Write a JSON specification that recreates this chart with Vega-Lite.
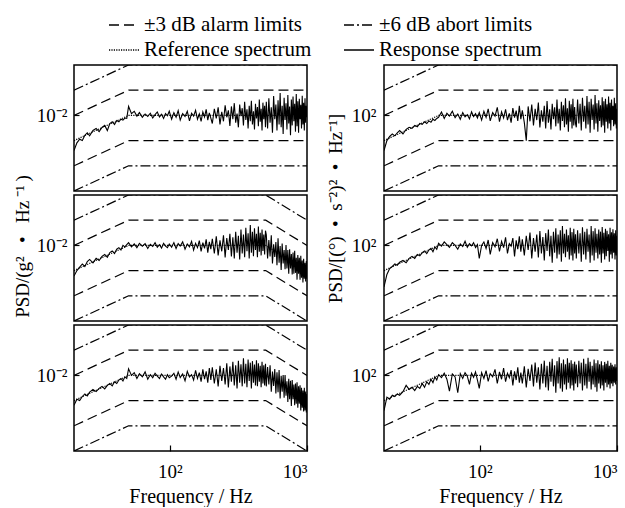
{
"$schema": "https://vega.github.io/schema/vega-lite/v6.json",
"background": "white",
"padding": {"left": 12, "top": 14, "right": 0, "bottom": 0},
"config": {
  "font": "Liberation Serif",
  "view": {"stroke": "black", "strokeWidth": 1.5},
  "axis": {"grid": false, "domain": false, "labelFont": "Liberation Serif", "labelFontSize": 19, "labelColor": "black", "tickColor": "black", "tickWidth": 1.2, "titleFont": "Liberation Serif", "titleFontSize": 19, "titleFontWeight": "normal", "titleColor": "black"},
  "legend": {"labelFont": "Liberation Serif", "labelFontSize": 21, "labelColor": "black", "labelLimit": 300}
},
"datasets": {
  "limL_flat": [
    {"s":"±6 dB abort limits","b":"u6","f":20,"v":0.02},{"s":"±6 dB abort limits","b":"u6","f":50,"v":0.04},{"s":"±6 dB abort limits","b":"u6","f":1000,"v":0.04},
    {"s":"±3 dB alarm limits","b":"u3","f":20,"v":0.01},{"s":"±3 dB alarm limits","b":"u3","f":50,"v":0.02},{"s":"±3 dB alarm limits","b":"u3","f":1000,"v":0.02},
    {"s":"Reference spectrum","b":"r","f":20,"v":0.005},{"s":"Reference spectrum","b":"r","f":50,"v":0.01},{"s":"Reference spectrum","b":"r","f":1000,"v":0.01},
    {"s":"±3 dB alarm limits","b":"l3","f":20,"v":0.0025},{"s":"±3 dB alarm limits","b":"l3","f":50,"v":0.005},{"s":"±3 dB alarm limits","b":"l3","f":1000,"v":0.005},
    {"s":"±6 dB abort limits","b":"l6","f":20,"v":0.00125},{"s":"±6 dB abort limits","b":"l6","f":50,"v":0.0025},{"s":"±6 dB abort limits","b":"l6","f":1000,"v":0.0025}
  ],
  "limL_fall": [
    {"s":"±6 dB abort limits","b":"u6","f":20,"v":0.02},{"s":"±6 dB abort limits","b":"u6","f":50,"v":0.04},{"s":"±6 dB abort limits","b":"u6","f":500,"v":0.04},{"s":"±6 dB abort limits","b":"u6","f":1000,"v":0.02},
    {"s":"±3 dB alarm limits","b":"u3","f":20,"v":0.01},{"s":"±3 dB alarm limits","b":"u3","f":50,"v":0.02},{"s":"±3 dB alarm limits","b":"u3","f":500,"v":0.02},{"s":"±3 dB alarm limits","b":"u3","f":1000,"v":0.01},
    {"s":"Reference spectrum","b":"r","f":20,"v":0.005},{"s":"Reference spectrum","b":"r","f":50,"v":0.01},{"s":"Reference spectrum","b":"r","f":500,"v":0.01},{"s":"Reference spectrum","b":"r","f":1000,"v":0.005},
    {"s":"±3 dB alarm limits","b":"l3","f":20,"v":0.0025},{"s":"±3 dB alarm limits","b":"l3","f":50,"v":0.005},{"s":"±3 dB alarm limits","b":"l3","f":500,"v":0.005},{"s":"±3 dB alarm limits","b":"l3","f":1000,"v":0.0025},
    {"s":"±6 dB abort limits","b":"l6","f":20,"v":0.00125},{"s":"±6 dB abort limits","b":"l6","f":50,"v":0.0025},{"s":"±6 dB abort limits","b":"l6","f":500,"v":0.0025},{"s":"±6 dB abort limits","b":"l6","f":1000,"v":0.00125}
  ],
  "limR_flat": [
    {"s":"±6 dB abort limits","b":"u6","f":20,"v":200},{"s":"±6 dB abort limits","b":"u6","f":50,"v":400},{"s":"±6 dB abort limits","b":"u6","f":1000,"v":400},
    {"s":"±3 dB alarm limits","b":"u3","f":20,"v":100},{"s":"±3 dB alarm limits","b":"u3","f":50,"v":200},{"s":"±3 dB alarm limits","b":"u3","f":1000,"v":200},
    {"s":"Reference spectrum","b":"r","f":20,"v":50},{"s":"Reference spectrum","b":"r","f":50,"v":100},{"s":"Reference spectrum","b":"r","f":1000,"v":100},
    {"s":"±3 dB alarm limits","b":"l3","f":20,"v":25},{"s":"±3 dB alarm limits","b":"l3","f":50,"v":50},{"s":"±3 dB alarm limits","b":"l3","f":1000,"v":50},
    {"s":"±6 dB abort limits","b":"l6","f":20,"v":12.5},{"s":"±6 dB abort limits","b":"l6","f":50,"v":25},{"s":"±6 dB abort limits","b":"l6","f":1000,"v":25}
  ],
  "resp": [
{"f":20,"L1":0.0038,"L2":0.0043,"L3":0.0044,"R1":38,"R2":32,"R3":38},
{"f":21,"L1":0.0047,"L2":0.005,"L3":0.0052,"R1":50,"R2":45,"R3":55},
{"f":22,"L1":0.0052,"L2":0.0055,"L3":0.005,"R1":56,"R2":53,"R3":52},
{"f":23,"L1":0.005,"L2":0.006,"L3":0.0056,"R1":60,"R2":56,"R3":58},
{"f":24,"L1":0.0058,"L2":0.0056,"L3":0.006,"R1":57,"R2":60,"R3":56},
{"f":25,"L1":0.0062,"L2":0.0064,"L3":0.0057,"R1":62,"R2":58,"R3":60},
{"f":26,"L1":0.0057,"L2":0.0068,"L3":0.0063,"R1":66,"R2":63,"R3":58},
{"f":27.5,"L1":0.0066,"L2":0.0062,"L3":0.0068,"R1":60,"R2":66,"R3":64},
{"f":29,"L1":0.007,"L2":0.007,"L3":0.0064,"R1":68,"R2":62,"R3":76},
{"f":30.5,"L1":0.0064,"L2":0.0066,"L3":0.007,"R1":72,"R2":70,"R3":68},
{"f":32,"L1":0.0072,"L2":0.0074,"L3":0.0074,"R1":70,"R2":74,"R3":72},
{"f":33.5,"L1":0.0076,"L2":0.0078,"L3":0.0069,"R1":76,"R2":70,"R3":66},
{"f":35,"L1":0.0066,"L2":0.0072,"L3":0.0076,"R1":73,"R2":78,"R3":74},
{"f":36.5,"L1":0.008,"L2":0.0082,"L3":0.008,"R1":80,"R2":75,"R3":70},
{"f":38,"L1":0.0084,"L2":0.0086,"L3":0.0075,"R1":78,"R2":82,"R3":80},
{"f":39.5,"L1":0.0078,"L2":0.008,"L3":0.0084,"R1":84,"R2":86,"R3":72},
{"f":41,"L1":0.0087,"L2":0.009,"L3":0.008,"R1":80,"R2":80,"R3":84},
{"f":42.5,"L1":0.0084,"L2":0.0094,"L3":0.0088,"R1":86,"R2":88,"R3":78},
{"f":44,"L1":0.009,"L2":0.0088,"L3":0.0092,"R1":83,"R2":92,"R3":90},
{"f":45.5,"L1":0.0088,"L2":0.01,"L3":0.0086,"R1":90,"R2":84,"R3":82},
{"f":47,"L1":0.0093,"L2":0.0096,"L3":0.0096,"R1":87,"R2":96,"R3":96},
{"f":48.5,"L1":0.0092,"L2":0.0102,"L3":0.0092,"R1":92,"R2":90,"R3":88},
{"f":50,"L1":0.0128,"L2":0.0108,"L3":0.012,"R1":95,"R2":106,"R3":102},
{"f":52.5,"L1":0.0105,"L2":0.0096,"L3":0.01,"R1":110,"R2":98,"R3":94},
{"f":55,"L1":0.0112,"L2":0.0104,"L3":0.0108,"R1":92,"R2":110,"R3":106},
{"f":57.5,"L1":0.0098,"L2":0.0094,"L3":0.0092,"R1":106,"R2":102,"R3":90},
{"f":60,"L1":0.0108,"L2":0.0106,"L3":0.0105,"R1":98,"R2":95,"R3":65},
{"f":63,"L1":0.0095,"L2":0.0098,"L3":0.0096,"R1":112,"R2":108,"R3":104},
{"f":66,"L1":0.0104,"L2":0.0105,"L3":0.011,"R1":94,"R2":100,"R3":96},
{"f":69,"L1":0.0097,"L2":0.0092,"L3":0.009,"R1":104,"R2":90,"R3":62},
{"f":72,"L1":0.0106,"L2":0.0103,"L3":0.0102,"R1":90,"R2":104,"R3":105},
{"f":75,"L1":0.0093,"L2":0.0097,"L3":0.0094,"R1":108,"R2":97,"R3":92},
{"f":78,"L1":0.0102,"L2":0.0108,"L3":0.0106,"R1":96,"R2":112,"R3":108},
{"f":81,"L1":0.011,"L2":0.0095,"L3":0.0098,"R1":102,"R2":95,"R3":98},
{"f":84,"L1":0.0096,"L2":0.0102,"L3":0.0092,"R1":91,"R2":105,"R3":78},
{"f":87,"L1":0.0103,"L2":0.0093,"L3":0.0104,"R1":110,"R2":99,"R3":106},
{"f":90,"L1":0.0092,"L2":0.0106,"L3":0.0096,"R1":97,"R2":108,"R3":95},
{"f":93,"L1":0.0105,"L2":0.0098,"L3":0.009,"R1":105,"R2":94,"R3":110},
{"f":96,"L1":0.0099,"L2":0.0094,"L3":0.0102,"R1":93,"R2":102,"R3":88},
{"f":99,"L1":0.0112,"L2":0.0104,"L3":0.0094,"R1":108,"R2":70,"R3":70},
{"f":103,"L1":0.009,"L2":0.0095,"L3":0.0098,"R1":88,"R2":100,"R3":108},
{"f":107,"L1":0.0108,"L2":0.0108,"L3":0.0106,"R1":112,"R2":110,"R3":92},
{"f":111,"L1":0.0095,"L2":0.0092,"L3":0.009,"R1":95,"R2":92,"R3":114},
{"f":115,"L1":0.0114,"L2":0.0105,"L3":0.011,"R1":120,"R2":116,"R3":85},
{"f":119,"L1":0.0088,"L2":0.0098,"L3":0.0094,"R1":86,"R2":78,"R3":105},
{"f":124,"L1":0.0105,"L2":0.011,"L3":0.0104,"R1":108,"R2":108,"R3":96},
{"f":129,"L1":0.0097,"L2":0.009,"L3":0.0086,"R1":98,"R2":96,"R3":118},
{"f":134,"L1":0.0112,"L2":0.0104,"L3":0.0112,"R1":125,"R2":120,"R3":80},
{"f":139,"L1":0.0086,"L2":0.0096,"L3":0.0096,"R1":84,"R2":85,"R3":110},
{"f":144,"L1":0.0106,"L2":0.0112,"L3":0.0102,"R1":110,"R2":112,"R3":90},
{"f":149,"L1":0.0098,"L2":0.0088,"L3":0.0088,"R1":93,"R2":94,"R3":122},
{"f":154,"L1":0.0115,"L2":0.0106,"L3":0.0115,"R1":118,"R2":125,"R3":84},
{"f":159,"L1":0.009,"L2":0.0094,"L3":0.0092,"R1":88,"R2":80,"R3":106},
{"f":164,"L1":0.0104,"L2":0.0114,"L3":0.0108,"R1":106,"R2":105,"R3":94},
{"f":169,"L1":0.0085,"L2":0.0085,"L3":0.0084,"R1":82,"R2":98,"R3":116},
{"f":174,"L1":0.011,"L2":0.0108,"L3":0.0118,"R1":122,"R2":122,"R3":76},
{"f":179,"L1":0.0096,"L2":0.0092,"L3":0.009,"R1":94,"R2":74,"R3":112},
{"f":184,"L1":0.0118,"L2":0.0118,"L3":0.0112,"R1":114,"R2":115,"R3":88},
{"f":189,"L1":0.0088,"L2":0.0082,"L3":0.0082,"R1":86,"R2":90,"R3":125},
{"f":194,"L1":0.0107,"L2":0.011,"L3":0.0122,"R1":130,"R2":128,"R3":82},
{"f":199,"L1":0.0093,"L2":0.009,"L3":0.0088,"R1":90,"R2":84,"R3":108},
{"f":204,"L1":0.008,"L2":0.012,"L3":0.0125,"R1":115,"R2":118,"R3":80},
{"f":211,"L1":0.012,"L2":0.008,"L3":0.008,"R1":82,"R2":76,"R3":128},
{"f":218,"L1":0.0092,"L2":0.0128,"L3":0.0118,"R1":50,"R2":130,"R3":72},
{"f":225,"L1":0.0125,"L2":0.0076,"L3":0.0074,"R1":128,"R2":88,"R3":120},
{"f":232,"L1":0.0078,"L2":0.0115,"L3":0.013,"R1":85,"R2":142,"R3":86},
{"f":239,"L1":0.011,"L2":0.0085,"L3":0.0086,"R1":135,"R2":70,"R3":135},
{"f":246,"L1":0.0085,"L2":0.0132,"L3":0.0122,"R1":76,"R2":122,"R3":74},
{"f":253,"L1":0.0132,"L2":0.0072,"L3":0.0078,"R1":120,"R2":84,"R3":142},
{"f":260,"L1":0.0095,"L2":0.0122,"L3":0.014,"R1":88,"R2":135,"R3":82},
{"f":267,"L1":0.0115,"L2":0.0088,"L3":0.0072,"R1":142,"R2":72,"R3":125},
{"f":274,"L1":0.0075,"L2":0.0138,"L3":0.0128,"R1":72,"R2":148,"R3":68},
{"f":281,"L1":0.0128,"L2":0.0074,"L3":0.0084,"R1":115,"R2":80,"R3":138},
{"f":288,"L1":0.009,"L2":0.0125,"L3":0.0145,"R1":84,"R2":126,"R3":80},
{"f":295,"L1":0.014,"L2":0.007,"L3":0.0076,"R1":130,"R2":66,"R3":150},
{"f":302,"L1":0.0082,"L2":0.0145,"L3":0.0132,"R1":70,"R2":140,"R3":72},
{"f":309,"L1":0.0105,"L2":0.0082,"L3":0.007,"R1":148,"R2":86,"R3":130},
{"f":316,"L1":0.0072,"L2":0.013,"L3":0.015,"R1":82,"R2":155,"R3":66},
{"f":323,"L1":0.0135,"L2":0.0068,"L3":0.0082,"R1":118,"R2":74,"R3":145},
{"f":330,"L1":0.0098,"L2":0.0155,"L3":0.0136,"R1":68,"R2":130,"R3":84},
{"f":337,"L1":0.0122,"L2":0.008,"L3":0.0074,"R1":138,"R2":62,"R3":158},
{"f":344,"L1":0.0076,"L2":0.0135,"L3":0.016,"R1":90,"R2":145,"R3":74},
{"f":351,"L1":0.0145,"L2":0.0072,"L3":0.008,"R1":125,"R2":82,"R3":132},
{"f":358,"L1":0.0088,"L2":0.0162,"L3":0.0138,"R1":74,"R2":160,"R3":62},
{"f":365,"L1":0.0118,"L2":0.0085,"L3":0.0072,"R1":155,"R2":70,"R3":148},
{"f":372,"L1":0.007,"L2":0.014,"L3":0.0155,"R1":80,"R2":135,"R3":80},
{"f":379,"L1":0.013,"L2":0.007,"L3":0.0086,"R1":120,"R2":78,"R3":165},
{"f":386,"L1":0.0085,"L2":0.0175,"L3":0.0142,"R1":66,"R2":152,"R3":70},
{"f":393,"L1":0.015,"L2":0.0082,"L3":0.007,"R1":145,"R2":64,"R3":140},
{"f":400,"L1":0.0078,"L2":0.0145,"L3":0.0148,"R1":86,"R2":170,"R3":64},
{"f":407,"L1":0.0112,"L2":0.0074,"L3":0.0082,"R1":132,"R2":80,"R3":155},
{"f":414,"L1":0.0068,"L2":0.016,"L3":0.0135,"R1":72,"R2":138,"R3":78},
{"f":421,"L1":0.0138,"L2":0.0088,"L3":0.0076,"R1":160,"R2":72,"R3":136},
{"f":428,"L1":0.0092,"L2":0.0138,"L3":0.0152,"R1":78,"R2":155,"R3":68},
{"f":435,"L1":0.0126,"L2":0.0072,"L3":0.0074,"R1":122,"R2":84,"R3":160},
{"f":442,"L1":0.0074,"L2":0.0168,"L3":0.014,"R1":64,"R2":132,"R3":82},
{"f":449,"L1":0.0155,"L2":0.0084,"L3":0.0084,"R1":150,"R2":68,"R3":142},
{"f":456,"L1":0.0084,"L2":0.0142,"L3":0.013,"R1":84,"R2":162,"R3":70},
{"f":463,"L1":0.012,"L2":0.0076,"L3":0.0072,"R1":136,"R2":76,"R3":152},
{"f":470,"L1":0.0066,"L2":0.0155,"L3":0.0145,"R1":70,"R2":144,"R3":76},
{"f":477,"L1":0.0142,"L2":0.0086,"L3":0.008,"R1":158,"R2":66,"R3":138},
{"f":484,"L1":0.009,"L2":0.0135,"L3":0.0132,"R1":76,"R2":158,"R3":66},
{"f":491,"L1":0.013,"L2":0.0078,"L3":0.0076,"R1":126,"R2":80,"R3":146},
{"f":498,"L1":0.0072,"L2":0.015,"L3":0.0138,"R1":80,"R2":136,"R3":80},
{"f":505,"L1":0.0145,"L2":0.0134,"L3":0.0074,"R1":72,"R2":70,"R3":135},
{"f":516,"L1":0.007,"L2":0.007,"L3":0.0126,"R1":155,"R2":152,"R3":72},
{"f":527,"L1":0.016,"L2":0.0116,"L3":0.0078,"R1":80,"R2":80,"R3":150},
{"f":538,"L1":0.0082,"L2":0.0074,"L3":0.0132,"R1":138,"R2":140,"R3":80},
{"f":549,"L1":0.0125,"L2":0.0132,"L3":0.0064,"R1":66,"R2":64,"R3":142},
{"f":560,"L1":0.0062,"L2":0.0061,"L3":0.0111,"R1":162,"R2":165,"R3":66},
{"f":571,"L1":0.017,"L2":0.0103,"L3":0.0075,"R1":84,"R2":78,"R3":158},
{"f":582,"L1":0.009,"L2":0.0073,"L3":0.0119,"R1":130,"R2":145,"R3":76},
{"f":593,"L1":0.0135,"L2":0.011,"L3":0.0061,"R1":70,"R2":68,"R3":138},
{"f":604,"L1":0.0066,"L2":0.0058,"L3":0.0109,"R1":170,"R2":158,"R3":70},
{"f":615,"L1":0.0152,"L2":0.0122,"L3":0.0063,"R1":78,"R2":84,"R3":162},
{"f":626,"L1":0.0078,"L2":0.0062,"L3":0.0116,"R1":145,"R2":135,"R3":84},
{"f":637,"L1":0.0185,"L2":0.0098,"L3":0.0053,"R1":62,"R2":62,"R3":145},
{"f":648,"L1":0.0072,"L2":0.0051,"L3":0.0099,"R1":158,"R2":170,"R3":68},
{"f":659,"L1":0.013,"L2":0.0105,"L3":0.0064,"R1":88,"R2":76,"R3":130},
{"f":670,"L1":0.006,"L2":0.0061,"L3":0.0101,"R1":135,"R2":148,"R3":78},
{"f":681,"L1":0.0162,"L2":0.0088,"L3":0.0054,"R1":68,"R2":66,"R3":155},
{"f":692,"L1":0.0088,"L2":0.0052,"L3":0.0101,"R1":175,"R2":160,"R3":72},
{"f":703,"L1":0.014,"L2":0.0101,"L3":0.0057,"R1":80,"R2":82,"R3":140},
{"f":714,"L1":0.0068,"L2":0.0053,"L3":0.0085,"R1":140,"R2":138,"R3":64},
{"f":725,"L1":0.0175,"L2":0.0088,"L3":0.0048,"R1":64,"R2":70,"R3":152},
{"f":736,"L1":0.008,"L2":0.0046,"L3":0.0091,"R1":152,"R2":155,"R3":80},
{"f":747,"L1":0.0128,"L2":0.009,"L3":0.0052,"R1":86,"R2":78,"R3":136},
{"f":758,"L1":0.0058,"L2":0.0053,"L3":0.0086,"R1":132,"R2":146,"R3":70},
{"f":769,"L1":0.0155,"L2":0.0079,"L3":0.0043,"R1":72,"R2":62,"R3":148},
{"f":780,"L1":0.0076,"L2":0.0045,"L3":0.0088,"R1":165,"R2":166,"R3":76},
{"f":791,"L1":0.0168,"L2":0.0082,"L3":0.0052,"R1":76,"R2":80,"R3":132},
{"f":802,"L1":0.0085,"L2":0.0046,"L3":0.0078,"R1":148,"R2":142,"R3":66},
{"f":813,"L1":0.0138,"L2":0.0086,"L3":0.0044,"R1":62,"R2":68,"R3":145},
{"f":824,"L1":0.0064,"L2":0.0047,"L3":0.008,"R1":158,"R2":158,"R3":82},
{"f":835,"L1":0.018,"L2":0.0071,"L3":0.0046,"R1":84,"R2":74,"R3":138},
{"f":846,"L1":0.0074,"L2":0.0039,"L3":0.0083,"R1":136,"R2":150,"R3":72},
{"f":857,"L1":0.0148,"L2":0.0077,"L3":0.0041,"R1":70,"R2":86,"R3":150},
{"f":868,"L1":0.0062,"L2":0.0046,"L3":0.0074,"R1":168,"R2":136,"R3":78},
{"f":879,"L1":0.0158,"L2":0.0071,"L3":0.0046,"R1":80,"R2":64,"R3":130},
{"f":890,"L1":0.009,"L2":0.0039,"L3":0.0076,"R1":142,"R2":162,"R3":70},
{"f":901,"L1":0.0134,"L2":0.0075,"L3":0.0038,"R1":66,"R2":78,"R3":142},
{"f":912,"L1":0.007,"L2":0.0041,"L3":0.0071,"R1":155,"R2":144,"R3":80},
{"f":923,"L1":0.0172,"L2":0.0066,"L3":0.0041,"R1":88,"R2":70,"R3":134},
{"f":934,"L1":0.0078,"L2":0.0036,"L3":0.0066,"R1":130,"R2":156,"R3":74},
{"f":945,"L1":0.0142,"L2":0.0069,"L3":0.0037,"R1":74,"R2":82,"R3":128},
{"f":956,"L1":0.0066,"L2":0.004,"L3":0.0071,"R1":162,"R2":140,"R3":82},
{"f":967,"L1":0.016,"L2":0.0062,"L3":0.0038,"R1":78,"R2":68,"R3":136},
{"f":978,"L1":0.0082,"L2":0.0037,"L3":0.0064,"R1":140,"R2":152,"R3":78},
{"f":989,"L1":0.013,"L2":0.0065,"L3":0.0036,"R1":70,"R2":76,"R3":125},
{"f":1000,"L1":0.0095,"L2":0.004,"L3":0.006,"R1":120,"R2":130,"R3":86}
  ]
},
"resolve": {"scale": {"strokeDash": "shared"}, "legend": {"strokeDash": "shared"}},
"spacing": 16,
"hconcat": [
 {"bounds": "flush", "spacing": 4, "resolve": {"scale": {"strokeDash": "shared"}, "legend": {"strokeDash": "shared"}},
  "vconcat": [
  {"width": 233, "height": 126, "layer": [
    {"data": {"name": "limL_flat"}, "mark": {"type": "line", "color": "black", "strokeWidth": 1.2, "clip": true},
     "encoding": {
      "x": {"field": "f", "type": "quantitative", "scale": {"type": "log", "domain": [20, 1000], "nice": false}, "axis": null},
      "y": {"field": "v", "type": "quantitative", "scale": {"type": "log", "domain": [0.00125, 0.04], "nice": false}, "axis": {"values": [0.01], "labelExpr": "'10⁻²'", "tickSize": -5, "labelPadding": 12, "title": null}},
      "detail": {"field": "b"},
      "strokeDash": {"field": "s", "type": "nominal",
        "scale": {"domain": ["±3 dB alarm limits", "±6 dB abort limits", "Reference spectrum", "Response spectrum"], "range": [[10,5],[10,3,2,3],[1.2,1.2],[1,0]]},
        "legend": {"title": null, "orient": "none", "legendX": 39, "legendY": -51, "padding": 0, "columns": 2, "direction": "horizontal", "symbolType": "M-1.5,0H1.5", "symbolSize": 400, "symbolStrokeWidth": 1.6, "symbolStrokeColor": "black", "labelFontSize": 21, "labelFont": "Liberation Serif", "labelLimit": 300, "columnPadding": 28, "rowPadding": 4, "labelOffset": 9}}
     }},
    {"data": {"name": "resp"}, "mark": {"type": "line", "color": "black", "strokeWidth": 1.1, "clip": true},
     "encoding": {
      "x": {"field": "f", "type": "quantitative", "scale": {"type": "log", "domain": [20, 1000], "nice": false}, "axis": null},
      "y": {"field": "L1", "type": "quantitative", "scale": {"type": "log", "domain": [0.00125, 0.04], "nice": false}, "axis": {"values": [0.01], "labelExpr": "'10⁻²'", "tickSize": -5, "labelPadding": 12, "title": null}}
     }}
  ]},
  {"width": 233, "height": 126, "layer": [
    {"data": {"name": "limL_fall"}, "mark": {"type": "line", "color": "black", "strokeWidth": 1.2, "clip": true},
     "encoding": {
      "x": {"field": "f", "type": "quantitative", "scale": {"type": "log", "domain": [20, 1000], "nice": false}, "axis": null},
      "y": {"field": "v", "type": "quantitative", "scale": {"type": "log", "domain": [0.00125, 0.04], "nice": false}, "axis": {"values": [0.01], "labelExpr": "'10⁻²'", "tickSize": -5, "labelPadding": 12, "title": "PSD/(g²\u2002\u2009•\u2002\u2009Hz\u2009⁻¹\u2009)", "titlePadding": 4, "titleY": 51}},
      "detail": {"field": "b"},
      "strokeDash": {"field": "s", "type": "nominal"}
     }},
    {"data": {"name": "resp"}, "mark": {"type": "line", "color": "black", "strokeWidth": 1.1, "clip": true},
     "encoding": {
      "x": {"field": "f", "type": "quantitative", "scale": {"type": "log", "domain": [20, 1000], "nice": false}, "axis": null},
      "y": {"field": "L2", "type": "quantitative", "scale": {"type": "log", "domain": [0.00125, 0.04], "nice": false}, "axis": {"values": [0.01], "labelExpr": "'10⁻²'", "tickSize": -5, "labelPadding": 12, "title": "PSD/(g²\u2002\u2009•\u2002\u2009Hz\u2009⁻¹\u2009)", "titlePadding": 4, "titleY": 51}}
     }}
  ]},
  {"width": 233, "height": 126, "layer": [
    {"data": {"name": "limL_fall"}, "mark": {"type": "line", "color": "black", "strokeWidth": 1.2, "clip": true},
     "encoding": {
      "x": {"field": "f", "type": "quantitative", "scale": {"type": "log", "domain": [20, 1000], "nice": false}, "axis": {"values": [100, 1000], "labelExpr": "datum.value < 500 ? '10²' : '10³'", "tickSize": -6, "labelPadding": 17, "title": "Frequency / Hz", "titleFontSize": 20, "titlePadding": 5}},
      "y": {"field": "v", "type": "quantitative", "scale": {"type": "log", "domain": [0.00125, 0.04], "nice": false}, "axis": {"values": [0.01], "labelExpr": "'10⁻²'", "tickSize": -5, "labelPadding": 12, "title": null}},
      "detail": {"field": "b"},
      "strokeDash": {"field": "s", "type": "nominal"}
     }},
    {"data": {"name": "resp"}, "mark": {"type": "line", "color": "black", "strokeWidth": 1.1, "clip": true},
     "encoding": {
      "x": {"field": "f", "type": "quantitative", "scale": {"type": "log", "domain": [20, 1000], "nice": false}, "axis": {"values": [100, 1000], "labelExpr": "datum.value < 500 ? '10²' : '10³'", "tickSize": -6, "labelPadding": 17, "title": "Frequency / Hz", "titleFontSize": 20, "titlePadding": 5}},
      "y": {"field": "L3", "type": "quantitative", "scale": {"type": "log", "domain": [0.00125, 0.04], "nice": false}, "axis": {"values": [0.01], "labelExpr": "'10⁻²'", "tickSize": -5, "labelPadding": 12, "title": null}}
     }}
  ]}
 ]},
 {"bounds": "flush", "spacing": 4, "resolve": {"scale": {"strokeDash": "shared"}, "legend": {"strokeDash": "shared"}},
  "vconcat": [
  {"width": 233, "height": 126, "layer": [
    {"data": {"name": "limR_flat"}, "mark": {"type": "line", "color": "black", "strokeWidth": 1.2, "clip": true},
     "encoding": {
      "x": {"field": "f", "type": "quantitative", "scale": {"type": "log", "domain": [20, 1000], "nice": false}, "axis": null},
      "y": {"field": "v", "type": "quantitative", "scale": {"type": "log", "domain": [12.5, 400], "nice": false}, "axis": {"values": [100], "labelExpr": "'10²'", "tickSize": -5, "labelPadding": 13, "title": null}},
      "detail": {"field": "b"},
      "strokeDash": {"field": "s", "type": "nominal"}
     }},
    {"data": {"name": "resp"}, "mark": {"type": "line", "color": "black", "strokeWidth": 1.1, "clip": true},
     "encoding": {
      "x": {"field": "f", "type": "quantitative", "scale": {"type": "log", "domain": [20, 1000], "nice": false}, "axis": null},
      "y": {"field": "R1", "type": "quantitative", "scale": {"type": "log", "domain": [12.5, 400], "nice": false}, "axis": {"values": [100], "labelExpr": "'10²'", "tickSize": -5, "labelPadding": 13, "title": null}}
     }}
  ]},
  {"width": 233, "height": 126, "layer": [
    {"data": {"name": "limR_flat"}, "mark": {"type": "line", "color": "black", "strokeWidth": 1.2, "clip": true},
     "encoding": {
      "x": {"field": "f", "type": "quantitative", "scale": {"type": "log", "domain": [20, 1000], "nice": false}, "axis": null},
      "y": {"field": "v", "type": "quantitative", "scale": {"type": "log", "domain": [12.5, 400], "nice": false}, "axis": {"values": [100], "labelExpr": "'10²'", "tickSize": -5, "labelPadding": 13, "title": "PSD/[(°)\u2002•\u2002s⁻²)²\u2002•\u2002Hz⁻¹]", "titlePadding": 6, "titleY": 13}},
      "detail": {"field": "b"},
      "strokeDash": {"field": "s", "type": "nominal"}
     }},
    {"data": {"name": "resp"}, "mark": {"type": "line", "color": "black", "strokeWidth": 1.1, "clip": true},
     "encoding": {
      "x": {"field": "f", "type": "quantitative", "scale": {"type": "log", "domain": [20, 1000], "nice": false}, "axis": null},
      "y": {"field": "R2", "type": "quantitative", "scale": {"type": "log", "domain": [12.5, 400], "nice": false}, "axis": {"values": [100], "labelExpr": "'10²'", "tickSize": -5, "labelPadding": 13, "title": "PSD/[(°)\u2002•\u2002s⁻²)²\u2002•\u2002Hz⁻¹]", "titlePadding": 6, "titleY": 13}}
     }}
  ]},
  {"width": 233, "height": 126, "layer": [
    {"data": {"name": "limR_flat"}, "mark": {"type": "line", "color": "black", "strokeWidth": 1.2, "clip": true},
     "encoding": {
      "x": {"field": "f", "type": "quantitative", "scale": {"type": "log", "domain": [20, 1000], "nice": false}, "axis": {"values": [100, 1000], "labelExpr": "datum.value < 500 ? '10²' : '10³'", "tickSize": -6, "labelPadding": 17, "title": "Frequency / Hz", "titleFontSize": 20, "titlePadding": 5}},
      "y": {"field": "v", "type": "quantitative", "scale": {"type": "log", "domain": [12.5, 400], "nice": false}, "axis": {"values": [100], "labelExpr": "'10²'", "tickSize": -5, "labelPadding": 13, "title": null}},
      "detail": {"field": "b"},
      "strokeDash": {"field": "s", "type": "nominal"}
     }},
    {"data": {"name": "resp"}, "mark": {"type": "line", "color": "black", "strokeWidth": 1.1, "clip": true},
     "encoding": {
      "x": {"field": "f", "type": "quantitative", "scale": {"type": "log", "domain": [20, 1000], "nice": false}, "axis": {"values": [100, 1000], "labelExpr": "datum.value < 500 ? '10²' : '10³'", "tickSize": -6, "labelPadding": 17, "title": "Frequency / Hz", "titleFontSize": 20, "titlePadding": 5}},
      "y": {"field": "R3", "type": "quantitative", "scale": {"type": "log", "domain": [12.5, 400], "nice": false}, "axis": {"values": [100], "labelExpr": "'10²'", "tickSize": -5, "labelPadding": 13, "title": null}}
     }}
  ]}
 ]}
]
}
